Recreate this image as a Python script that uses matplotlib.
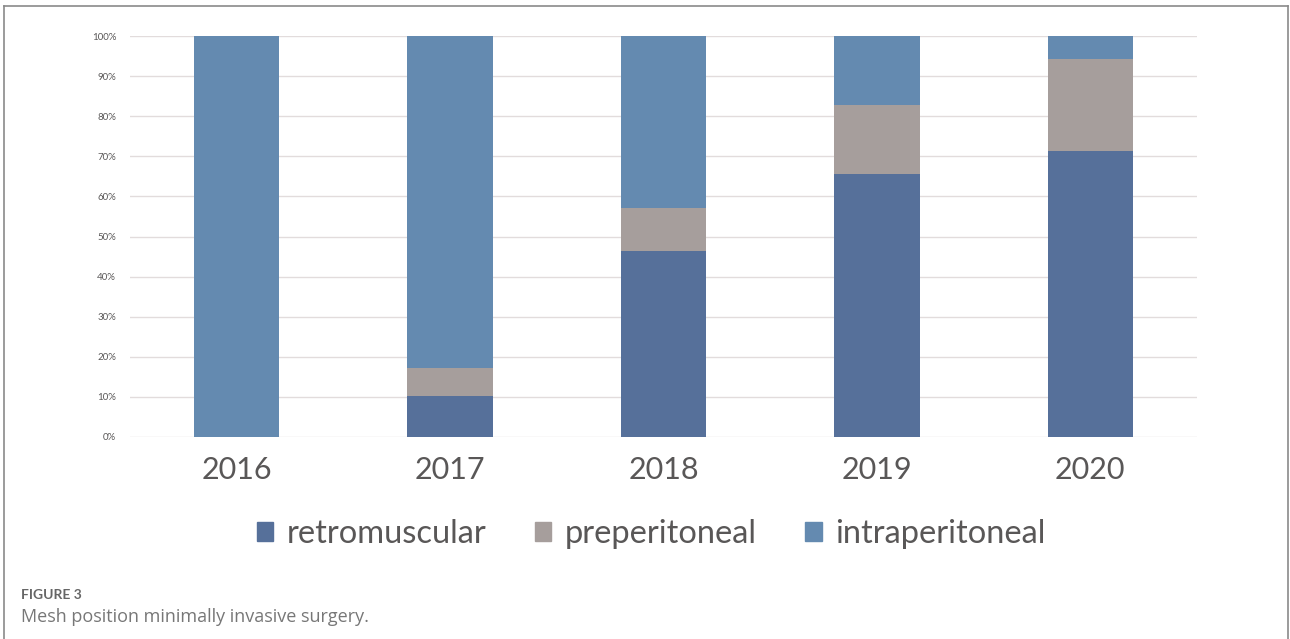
import matplotlib.pyplot as plt
import numpy as np
from matplotlib.patches import Patch
from matplotlib.lines import Line2D

years = ['2016', '2017', '2018', '2019', '2020']
retromuscular = [0.0, 10.3, 46.4, 65.5, 71.4]
preperitoneal = [0.0, 6.9, 10.7, 17.3, 22.9]
intraperitoneal = [100.0, 82.8, 42.9, 17.2, 5.7]

c_retro = '#56709a'
c_pre = '#a69e9c'
c_intra = '#648ab0'
txt = '#595757'

plt.rcParams['font.family'] = ['Lato', 'DejaVu Sans']

fig = plt.figure(figsize=(12.9, 6.39), dpi=100)
ax = fig.add_axes([130/1290, 1-437/639, (1197-130)/1290, 401/639])

x = np.arange(len(years))
w = 0.40
retro = np.array(retromuscular)
pre = np.array(preperitoneal)
intra = np.array(intraperitoneal)
ax.bar(x, retro, w, color=c_retro, zorder=3)
ax.bar(x, pre, w, bottom=retro, color=c_pre, zorder=3)
ax.bar(x, intra, w, bottom=retro+pre, color=c_intra, zorder=3)

ax.set_xlim(-0.5, 4.5)
ax.set_ylim(0, 100)
ax.set_yticks(np.arange(0, 101, 10))
ax.set_yticklabels([f'{v}%' for v in range(0, 101, 10)], fontsize=7, color=txt)
ax.yaxis.grid(True, color='#e2dcdc', lw=1, zorder=0)
ax.tick_params(axis='y', length=0, pad=10)
ax.set_xticks(x)
ax.set_xticklabels(years, fontsize=22, color=txt)
ax.tick_params(axis='x', length=0, pad=14)
for s in ax.spines.values():
    s.set_visible(False)

handles = [Patch(color=c_retro), Patch(color=c_pre), Patch(color=c_intra)]
fig.legend(handles, ['retromuscular', 'preperitoneal', 'intraperitoneal'],
           loc='center', bbox_to_anchor=(651/1290, 1-534/639), ncol=3, frameon=False,
           fontsize=23.5, labelcolor=txt, handlelength=0.5, handleheight=0.5,
           handletextpad=0.4, columnspacing=1.5)

# border around figure panel (open at the bottom)
bc = '#8a8a8a'
fig.add_artist(Line2D([4/1290, 4/1290], [0, 1-6/639], color=bc, lw=1.2, transform=fig.transFigure))
fig.add_artist(Line2D([4/1290, 1288/1290], [1-6/639, 1-6/639], color=bc, lw=1.2, transform=fig.transFigure))
fig.add_artist(Line2D([1288/1290, 1288/1290], [1-6/639, 0], color=bc, lw=1.2, transform=fig.transFigure))

fig.text(21/1290, 1-595/639, 'FIGURE 3', fontsize=10, color='#666666', fontweight='bold', va='center')
fig.text(21/1290, 1-617/639, 'Mesh position minimally invasive surgery.', fontsize=13,
         color='#777777', va='center', family=['Open Sans', 'DejaVu Sans'])

fig.savefig('out.png', dpi=100)
